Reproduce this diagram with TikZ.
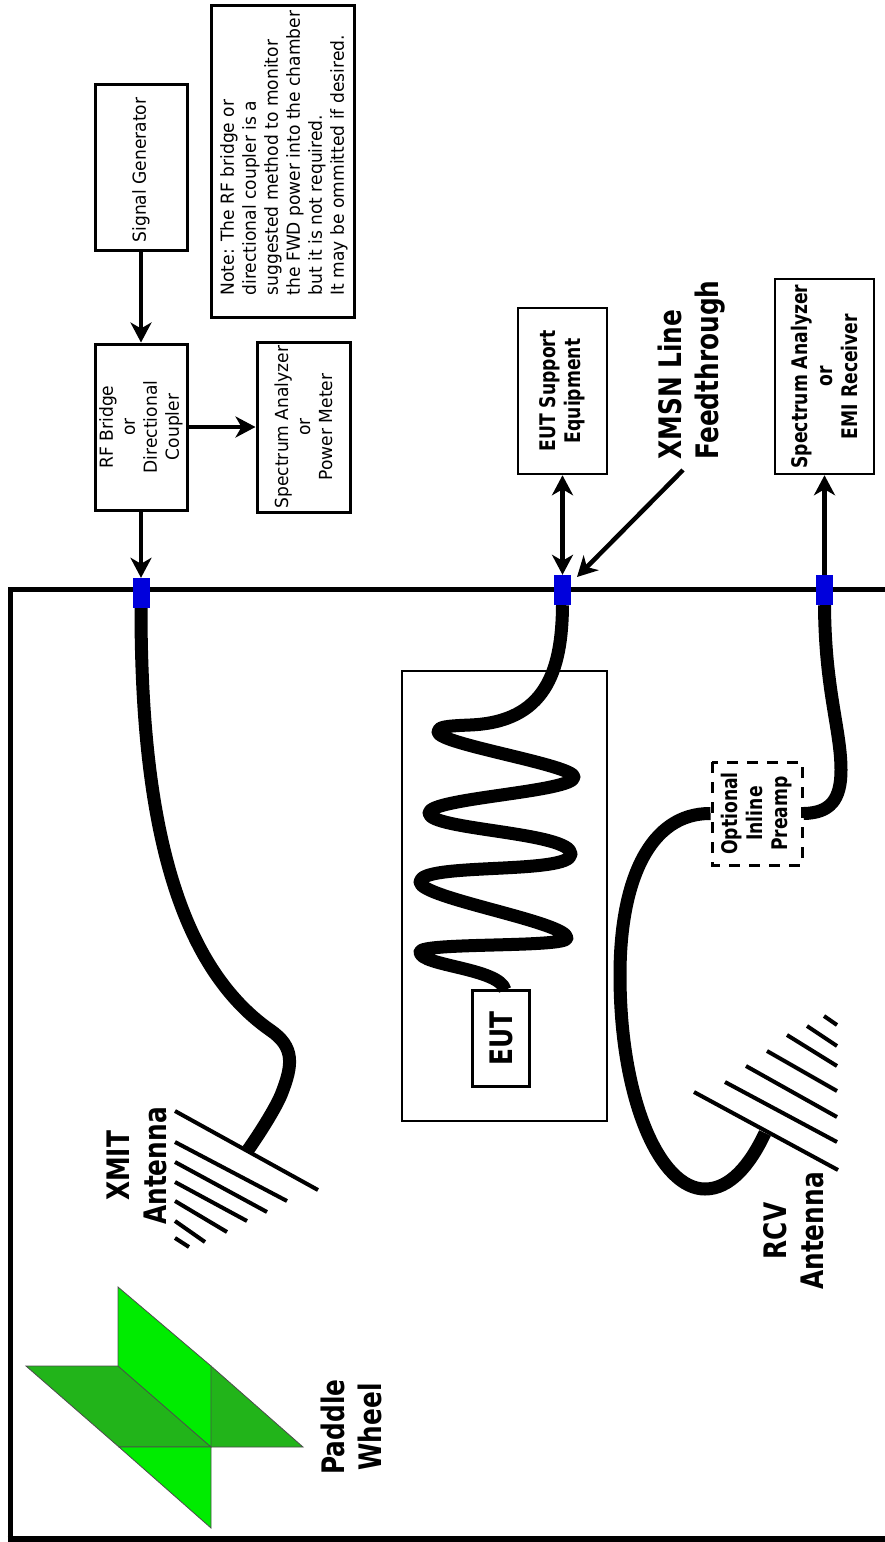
\documentclass[tikz,border=0pt]{standalone}
\usepackage{fontspec}
\setmainfont[FakeStretch=0.8]{DejaVu Sans}
\newfontfamily\plainfont[FakeStretch=0.95]{DejaVu Sans}
\usetikzlibrary{arrows.meta}
\definecolor{feedblue}{HTML}{0000DC}
\definecolor{paddlelight}{HTML}{00EC00}
\definecolor{paddledark}{HTML}{22B41A}

\begin{document}
\begin{tikzpicture}[
  x=1pt, y=-1pt,
  box/.style={draw, line width=3pt, rotate=90, align=center, inner sep=0pt,
              font=\plainfont\fontsize{18}{22}\selectfont},
  bbox/.style={box, line width=2.5pt, font=\fontsize{21.5}{25}\selectfont\bfseries},
  lbl/.style={rotate=90, align=center, inner sep=0pt,
              font=\fontsize{31}{37}\selectfont\bfseries},
  feed/.style={fill=feedblue, rotate=90, minimum width=30pt, minimum height=17pt, inner sep=0pt},
  tip/.style={-{Stealth[length=20pt, width=21pt, inset=6pt]}},
  arr/.style={tip, line width=4.5pt},
  arrthin/.style={tip, line width=3.5pt},
  cable/.style={line width=13pt, line cap=butt, line join=round},
  ant/.style={line width=4pt},
  paddle/.style={draw=black!70, line width=0.8pt},
]
\useasboundingbox (0,0) rectangle (885,1542);

% ---- Chamber wall ----
\draw[line width=5pt] (885,589) -- (10,589) -- (10,1538);
\draw[line width=6pt] (7.5,1538.5) -- (885,1538.5);

% ---- Top row: source pipeline ----
\node[box, minimum width=166pt, minimum height=92pt] (siggen) at (141,167)
  {Signal Generator\hspace*{6pt}};
\node[box, minimum width=166pt, minimum height=92pt] (bridge) at (141,427)
  {RF Bridge\\or\\Directional\\Coupler};
\node[box, minimum width=170pt, minimum height=93pt] (meter) at (303.5,427)
  {Spectrum Analyzer\\or\\Power Meter};
\node[box, minimum width=312pt, minimum height=143pt] (note) at (282.5,161) {};
\node[rotate=90, align=left, inner sep=0pt, font=\plainfont\fontsize{18}{22}\selectfont] (notetext) at (284,153)
  {Note: The RF bridge or\\directional coupler is a\\suggested method to monitor\\the FWD power into the chamber\\but it is not required.\\It may be ommitted if desired.};

\node[feed] (feedxmit) at (141,593) {};
\node[feed] (feedeut) at (562.5,590) {};
\node[feed] (feedrcv) at (824.5,590) {};

\draw[arr] (siggen.west) -- (bridge.east);
\draw[arrthin] (bridge.south) -- (meter.north);
\draw[arrthin] (bridge.west) -- (feedxmit.east);

% ---- Support equipment and receiver ----
\node[bbox, minimum width=166pt, minimum height=89pt] (support) at (562.5,391)
  {EUT Support\\Equipment};
\node[bbox, minimum width=195pt, minimum height=99pt] (receiver) at (824.5,376.5)
  {Spectrum Analyzer\\or\\EMI Receiver};
\draw[arr, {Stealth[length=20pt, width=21pt, inset=6pt]}-{Stealth[length=20pt, width=21pt, inset=6pt]}]
  (feedeut.east) -- (support.west);
\draw[arr] (feedrcv.east) -- (receiver.west);

\node[lbl, align=left] (xmsn) at (692,370) {XMSN Line\\Feedthrough};
\coordinate (xmsntail) at (683,470);
\coordinate (xmsntip) at (577,577);
\draw[arr] (xmsntail) -- (xmsntip);

% ---- Table with EUT ----
\draw[line width=2pt] (402,671) rectangle (607,1121);
\node[box, line width=2.5pt, minimum width=96pt, minimum height=57pt,
      font=\fontsize{31}{37}\selectfont\bfseries] (eut) at (501,1038.5) {EUT};
\draw[cable] (feedeut.west) .. controls (562,672) and (545,722) .. (470,725)
  .. controls (445,726) and (438,727) .. (438,732)
  .. controls (438,744) and (574,765) .. (574,777)
  .. controls (574,792) and (429,798) .. (429,813)
  .. controls (429,830) and (571,832) .. (571,854)
  .. controls (571,875) and (420,862) .. (420,882)
  .. controls (420,898) and (567,922) .. (567,938)
  .. controls (567,948) and (420,942) .. (420,952)
  .. controls (420,966) and (500,968) .. (505,990);

% ---- XMIT side ----
\coordinate (xmitend) at (248,1150);
\draw[cable] (feedxmit.west) .. controls (141,800) and (170,960) .. (270,1030)
  .. controls (295,1047) and (293,1065) .. (281,1095)
  .. controls (276,1107) and (262,1130) .. (xmitend);
\foreach \xa/\ya/\xb/\yb in {175/1111/318/1190, 175/1142/287/1201, 175/1162/267/1212,
    175/1182/247/1221, 175/1201/227/1232, 175/1221/205/1242, 175/1238/189/1247}
  \draw[ant] (\xa,\ya) -- (\xb,\yb);
\node[lbl] (xmit) at (137,1166) {XMIT\\Antenna};

% ---- RCV side ----
\node[bbox, line width=3pt, dash pattern=on 11pt off 9pt, minimum width=103pt, minimum height=90pt] (preamp)
  at (757,813.5) {Optional\\Inline\\Preamp};
\draw[cable] (feedrcv.west) .. controls (825,690) and (841,730) .. (841,770)
  .. controls (841,800) and (830,813) .. (preamp.south);
\coordinate (rcvend) at (765,1133);
\draw[cable] (preamp.north) .. controls (650,813) and (620,880) .. (620,975)
  .. controls (620,1100) and (660,1189) .. (705,1189)
  .. controls (730,1189) and (750,1165) .. (rcvend);
\foreach \xa/\ya/\xb/\yb in {694/1092/838/1170, 725/1082/837/1142, 746/1066/837/1117,
    767/1051/837/1091, 787/1035/837/1066, 807/1026/837/1046, 824/1016/837/1025}
  \draw[ant] (\xa,\ya) -- (\xb,\yb);
\node[lbl] (rcv) at (794,1231) {RCV\\Antenna};

% ---- Paddle wheel ----
\draw[paddle, fill=paddledark] (26,1366) -- (211,1366) -- (303,1447) -- (119,1447) -- cycle;
\draw[paddle, fill=paddlelight] (118,1287) -- (211,1366) -- (211,1447) -- (118,1366) -- cycle;
\draw[paddle, fill=paddlelight] (119,1447) -- (211,1447) -- (211,1528) -- cycle;
\node[lbl] (paddlewheel) at (351.5,1427) {Paddle\\Wheel};
\end{tikzpicture}
\end{document}
